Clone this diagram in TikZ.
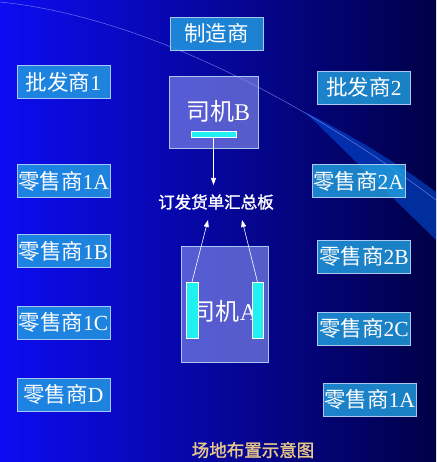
\documentclass[tikz,border=0pt]{standalone}
\usepackage{fontspec}
\setmainfont{Liberation Serif}
\newfontfamily\cjk{Noto Sans CJK SC}
\newfontfamily\cjkbold[FakeBold=1.5]{Noto Sans CJK SC}
\usetikzlibrary{arrows.meta}
\definecolor{bgleft}{HTML}{0C0CF2}
\definecolor{bgmid}{HTML}{0808D4}
\definecolor{bgright}{HTML}{000046}
\definecolor{boxfill}{HTML}{22A2E2}
\definecolor{boxline}{HTML}{A8C8F0}
\definecolor{drvfill}{HTML}{8C96F2}
\definecolor{barcyan}{HTML}{20F0F0}
\definecolor{gold}{HTML}{E8C88A}
\tikzset{
  shopbox/.style={draw=boxline, line width=0.8pt, fill=boxfill, fill opacity=0.8,
    text opacity=1, text=white, minimum width=93pt, minimum height=33pt,
    inner sep=0pt, font=\fontsize{21.5}{23}\selectfont},
  drvbox/.style={draw=boxline, line width=0.8pt, fill=drvfill, fill opacity=0.6,
    text opacity=1, text=white, inner sep=0pt},
  drvtext/.style={text=white, inner sep=0pt, font=\fontsize{24}{26}\selectfont},
  bar/.style={fill=barcyan, draw=white, line width=0.4pt, inner sep=0pt},
  link/.style={white, line width=0.6pt, -{Triangle[length=7pt,width=5pt]}}
}
\begin{document}
\begin{tikzpicture}[x=1pt,y=-1pt]
\useasboundingbox (0,0) rectangle (436,462);
\shade[left color=bgleft, middle color=bgmid, right color=bgright] (0,0) rectangle (436,462);
% decoration
\fill[blue!60!cyan, opacity=0.45] (305,112) .. controls (360,140) and (400,165) .. (436,192) -- (436,240) -- cycle;
\draw[blue!40!white, opacity=0.7, line width=0.5pt] (0,2) .. controls (130,15) and (290,90) .. (436,200);
% top row
\node[shopbox] (maker) at (216.5,33.5) {\cjk 制造商};
\foreach \y/\txt/\nm in {82/{{\cjk 批发商}1}/whl1, 181/{{\cjk 零售商}1A}/ret1a,
    251/{{\cjk 零售商}1B}/ret1b, 322.5/{{\cjk 零售商}1C}/ret1c, 394.5/{{\cjk 零售商}D}/retd} {
  \node[shopbox] (\nm) at (63.5,\y) {\txt};
}
\foreach \x/\y/\txt/\nm in {364/87.5/{{\cjk 批发商}2}/whl2, 358.5/181/{{\cjk 零售商}2A}/ret2a,
    364/256.5/{{\cjk 零售商}2B}/ret2b, 364/328.5/{{\cjk 零售商}2C}/ret2c, 369.5/399.5/{{\cjk 零售商}1A}/ret1ar} {
  \node[shopbox] (\nm) at (\x,\y) {\txt};
}
% drivers
\node[drvbox, minimum width=89pt, minimum height=72pt] (drvB) at (213.5,112) {};
\node[drvtext] (drvBtxt) at (218,111) {{\cjk 司机}B};
\node[bar, minimum width=45pt, minimum height=6pt] (barB) at (213.5,134) {};
\node[drvbox, minimum width=87pt, minimum height=116pt] (drvA) at (224.5,304) {};
\node[drvtext] (drvAtxt) at (224.5,311) {{\cjk 司机}A};
\node[bar, minimum width=12pt, minimum height=56pt] (barAl) at (192,310) {};
\node[bar, minimum width=11pt, minimum height=56pt] (barAr) at (257.5,310) {};
% board
\node[text=white, font=\cjkbold\fontsize{16.5}{18}\selectfont] (board) at (216,202) {订发货单汇总板};
\coordinate (tipB) at (213.5,185);
\coordinate (tipL) at (208,220);
\coordinate (tipR) at (242,220);
\draw[link] (barB.south) -- (tipB);
\draw[link] (barAl.north) -- (tipL);
\draw[link] (barAr.north) -- (tipR);
\node[text=gold, font=\cjkbold\fontsize{17.5}{19}\selectfont] (title) at (253,450) {场地布置示意图};
\end{tikzpicture}
\end{document}
